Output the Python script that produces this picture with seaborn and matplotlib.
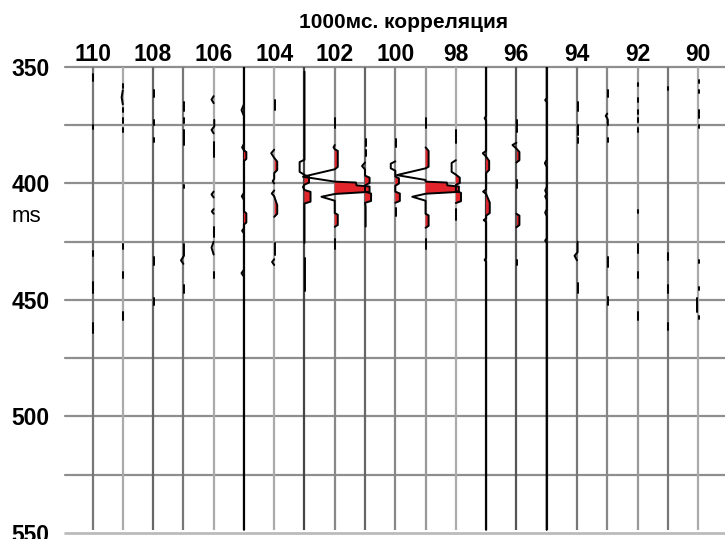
import numpy as np
import pandas as pd
import matplotlib
matplotlib.use("Agg")
import matplotlib.pyplot as plt
import seaborn as sns

# ---------------- data ----------------
TITLE = "1000мс. корреляция"
Y_UNIT = "ms"
trace_ids = list(range(110, 89, -1))
trace_gray = ["#777777", "#aaaaaa", "#666666", "#777777", "#aaaaaa", "#111111",
              "#aaaaaa", "#444444", "#888888", "#666666", "#888888", "#999999",
              "#aaaaaa", "#333333", "#555555", "#222222", "#777777", "#888888",
              "#999999", "#777777", "#aaaaaa"]
x_tick_values = [110, 108, 106, 104, 102, 100, 98, 96, 94, 92, 90]
y_tick_values = [350, 400, 450, 500, 550]
grid_ms = [350, 375, 400, 425, 450, 475, 500, 525, 550]
trace_end_ms = 548.7

# wiggle samples per trace: (time ms, amplitude in trace spacings); None = gap
w110 = [(353, 0.02), (356, 0.02), None, (375, 0.02), (376.5, 0.02), None,
        (429, 0.02), (431, 0.02), None, (442.5, 0.03), (447, 0.03), None,
        (460, 0.02), (464, 0.02)]
w109 = [(357.5, 0.02), (359, 0.02), None, (360, 0), (363, -0.04), (366, 0), None,
        (367.5, 0.02), (369.5, 0.02), None, (372, 0.02), (374, 0.02), None,
        (376, 0.02), (378, 0.02), None, (426, 0.02), (428, 0.02), None,
        (438, 0.02), (440.5, 0.02), None, (455, 0.02), (458.5, 0.02)]
w108 = [(360, 0.02), (363, 0.02), None, (372.7, 0.02), (375, 0.02), None,
        (380.5, 0.02), (382, 0.02), None, (431.5, 0.02), (435, 0.02), None,
        (449, 0.02), (452, 0.02)]
w107 = [(365, 0.02), (369, 0.02), None, (372, 0.02), (374, 0.02), None,
        (377, 0.02), (383.5, 0.02), None, (400.6, 0.02), (402, 0.02), None,
        (426, 0.02), (431, 0.02), (433, -0.08), (434.5, 0), None,
        (443.6, 0.02), (447, 0.02)]
w106 = [(362.5, 0), (364, -0.07), (365.5, 0), None, (372.7, 0.02), (375.5, 0.02),
        (377, -0.07), (378.5, 0), None, (382, 0.02), (388.6, 0.02), None,
        (403.5, 0), (404.7, -0.07), (406, 0), None, (411, 0), (412, -0.06), (413, 0),
        None, (418.7, 0.02), (423, 0.02), None, (425, 0), (427.5, -0.07), (430.5, 0),
        None, (438, 0.02), (440.5, 0.02)]
w105 = [(350, 0), (366, 0), (368.5, -0.08), (371, 0), (383, 0), (384.5, -0.06),
        (385.8, 0), (386.5, 0.08), (389.5, 0.08), (390.3, 0), (404, 0),
        (405.5, -0.07), (407, 0), (412, 0), (412.8, 0.08), (416.8, 0.08),
        (417.6, 0), (419.2, 0), (420.3, -0.06), (421.4, 0), (437, 0),
        (438.5, -0.08), (440, 0), (548.7, 0)]
w104 = [(364, 0.02), (368.5, 0.02), None, (385.5, 0), (387, -0.1), (389, 0),
        (390.6, 0.1), (394.2, 0.1), (395.5, 0), (398, 0), (399, -0.05), (400, 0),
        None, (403, 0), (404.3, -0.08), (405.5, 0), (409.3, 0.1), (413, 0.1),
        (414.3, 0), None, (425.5, 0.02), (430.7, 0.02), None, (432.5, 0),
        (433.7, -0.07), (435, 0)]
w103 = [(352, 0), (389.8, 0), (390.8, -0.16), (395, -0.16), (396.3, 0),
        (397.2, 0.15), (399.6, 0.15), (400.5, 0), (401.5, -0.05), (402.8, 0),
        (403.6, 0.2), (407.8, 0.2), (408.6, 0), (425.5, 0), None,
        (432, 0.02), (446, 0.02)]
w102 = [(372, 0.02), (376, 0.02), None, (383.5, 0), (384.5, -0.04), (385.3, 0),
        (386, 0.1), (392.9, 0.1), (393.9, 0), (397.1, -1.05), (399.2, 0),
        (399.6, 0.7), (400.8, 0.72), (401.3, 1.15), (403.6, 1.15), (404.5, 0),
        (405.7, -0.44), (407.4, 0), (412.7, 0), (413.4, 0.1), (417.8, 0.1),
        (418.6, 0), None, (424, 0.02), (428, 0.02)]
w101 = [(381, 0.02), (384, 0.02), None, (385.5, 0.02), (388, 0.02), None,
        (391, 0), (392.5, -0.1), (394, 0), (396.6, 0), (397.5, 0.15),
        (399.8, 0.15), (400.8, 0), (403.5, 0), (404.3, 0.2), (407.5, 0.2),
        (408.3, 0), (410, 0.02), (418.5, 0.02)]
w100 = [(381, 0.02), (384.3, 0.02), None, (390.5, 0), (391.5, -0.15),
        (393.5, -0.15), (394.5, 0), (397, 0), (397.8, 0.12), (400, 0.12),
        (401, 0), (403.5, 0), (404.3, 0.15), (407.5, 0.15), (408.3, 0), None,
        (410.5, 0.02), (414, 0.02)]
w99 = [(372, 0.02), (376, 0.02), None, (384.5, 0), (386, 0.1), (392.8, 0.1),
       (393.5, 0), (396.4, -0.95), (398.5, 0), (399.2, 0), (399.6, 0.7),
       (400.8, 0.72), (401.3, 1.1), (403.6, 1.1), (404.4, 0), (405.7, -0.44),
       (407.4, 0), (413, 0), (413.7, 0.1), (418.2, 0.1), (419, 0), None,
       (424, 0.02), (428, 0.02)]
w98 = [(377, 0.02), (382.6, 0.02), None, (390, 0), (391.2, -0.14), (395, -0.14),
       (396.2, 0), (397.5, 0.13), (399.8, 0.13), (400.6, 0), (403.2, 0),
       (404, 0.17), (407.6, 0.17), (408.4, 0), None, (411, 0.02), (415.7, 0.02)]
w97 = [(350, 0), (371, 0), (372, -0.05), (373, 0), (386, 0), (387, -0.11),
       (388.5, 0), (390.3, 0.1), (394.2, 0.1), (395.5, 0), (402.5, 0),
       (403.5, -0.1), (404.5, 0), (408.2, 0.12), (412.7, 0.12), (413.8, 0),
       (415, 0), (415.7, -0.08), (416.5, 0), (432, 0), (432.8, -0.05),
       (433.6, 0), (548.7, 0)]
w96 = [(372.7, 0.02), (375.8, 0.02), None, (376.2, 0.02), (378, 0.02), None,
       (382.5, 0), (383.5, -0.13), (385, 0), (386.5, 0.1), (390, 0.1), (391, 0),
       None, (398.5, 0.02), (402, 0.02), None, (413, 0), (413.8, 0.1),
       (417.8, 0.1), (418.8, 0), None, (432.8, 0.02), (435, 0.02)]
w95 = [(350, 0), (363.3, 0), (364.2, -0.05), (365.1, 0), (389.8, 0),
       (391.3, -0.06), (392.8, 0), (401.5, 0), (403, -0.05), (404.5, 0),
       (405.5, -0.05), (407, 0), (411, 0), (412.5, -0.05), (414, 0),
       (423.5, 0), (424.5, -0.05), (425.5, 0), (548.7, 0)]
w94 = [(365, 0.02), (369, 0.02), None, (375, 0.02), (379, 0.02), None,
       (380.5, 0.02), (382.5, 0.02), None, (425, 0.02), (429.5, 0.02),
       (431, -0.08), (433, 0), None, (442.7, 0.02), (447, 0.02)]
w93 = [(360, 0.02), (363, 0.02), None, (370, 0), (371, -0.05), (372, 0),
       (372.7, 0.02), (375, 0.02), None, (380.5, 0.02), (382, 0.02), None,
       (431.5, 0.02), (436, 0.02), None, (448.7, 0.02), (452, 0.02)]
w92 = [(357, 0.02), (358, 0.02), None, (363.5, 0.02), (365, 0.02), None,
       (368.5, 0.02), (370, 0.02), None, (372, 0.02), (373.6, 0.02), None,
       (376.2, 0.02), (377.9, 0.02), None, (411.5, 0.02), (412.5, 0.02), None,
       (426, 0.02), (430, 0.02), None, (438, 0.02), (440.5, 0.02), None,
       (455, 0.02), (458.6, 0.02)]
w91 = [(358.6, 0.02), (360, 0.02), None, (430, 0.02), (432.8, 0.02), None,
       (443.6, 0.02), (447, 0.02), None, (460, 0.02), (463, 0.02)]
w90 = [(355.6, 0.02), (357, 0.02), None, (360, 0.02), (361, 0.02), None,
       (368.5, 0.02), (370, 0.02), None, (370.6, 0.02), (372, 0.02), None,
       (375, 0.02), (376, 0.02), None, (433, 0.02), (434, 0.02), None,
       (444.4, 0.02), (445.7, 0.02), None, (449, -0.03), (455, -0.03), None,
       (457, 0.02), (458, 0.02)]

wiggles = [w110, w109, w108, w107, w106, w105, w104, w103, w102, w101, w100,
           w99, w98, w97, w96, w95, w94, w93, w92, w91, w90]

# ---------------- build long table ----------------
rows = []
seg_id = 0
for tr, w in zip(trace_ids, wiggles):
    seg_id += 1
    for p in w:
        if p is None:
            seg_id += 1
            continue
        rows.append({"trace": tr, "seg": seg_id, "ms": p[0], "amp": p[1],
                     "x": tr - p[1]})
df = pd.DataFrame(rows)

# ---------------- figure ----------------
sns.set_style("white")
plt.rcParams["font.family"] = ["Liberation Sans", "DejaVu Sans"]
plt.rcParams["text.color"] = "black"
plt.rcParams["xtick.color"] = "black"
plt.rcParams["ytick.color"] = "black"

W, H = 725, 539
fig = plt.figure(figsize=(W / 100, H / 100), dpi=100)
ax = fig.add_axes([65 / W, 0, 1 - 65 / W, 1 - 67 / H])
ax.set_xlim(110.91, 89.11)
ax.set_ylim(552.6, 350)

for g in grid_ms:
    ax.axhline(g, color="#bbbbbb" if g == 550 else "#8e8e8e",
               lw=2.0 if g == 550 else 1.6, zorder=1, clip_on=False)

for tr, col in zip(trace_ids, trace_gray):
    ax.plot([tr, tr], [350, trace_end_ms], color=col, lw=1.6, zorder=2,
            solid_capstyle="butt")

RED = "#e3242b"
for sid, sub in df.groupby("seg"):
    tr = sub["trace"].iloc[0]
    amp = sub["amp"].to_numpy()
    if (amp > 0.05).any():
        ax.fill_betweenx(sub["ms"].to_numpy(), tr, sub["x"].to_numpy(),
                         where=amp > 0, interpolate=True, color=RED, lw=0,
                         zorder=3)

sns.lineplot(data=df, x="x", y="ms", units="seg", estimator=None, sort=False,
             color="black", linewidth=1.4, ax=ax, legend=False, zorder=4)

ax.set_xlabel("")
ax.set_ylabel("")
for s in ax.spines.values():
    s.set_visible(False)

ax.xaxis.tick_top()
ax.set_xticks(x_tick_values)
ax.set_xticklabels([str(v) for v in x_tick_values], fontsize=16.5,
                   fontweight="bold", color="black")
ax.tick_params(axis="x", top=True, bottom=False, direction="in", length=3,
               width=0.8, color="#888888", pad=1)
ax.set_yticks(y_tick_values)
ax.set_yticklabels([str(v) for v in y_tick_values], fontsize=16.5,
                   fontweight="bold", color="black")
ax.tick_params(axis="y", left=True, length=0, pad=11)

fig.text(404 / W, 1 - 22 / H, TITLE, ha="center", va="center",
         fontsize=15, fontweight="bold", color="black")
fig.text(12 / W, 1 - 216 / H, Y_UNIT, ha="left", va="center", fontsize=16,
         color="black")

fig.savefig("out.png", dpi=100)
